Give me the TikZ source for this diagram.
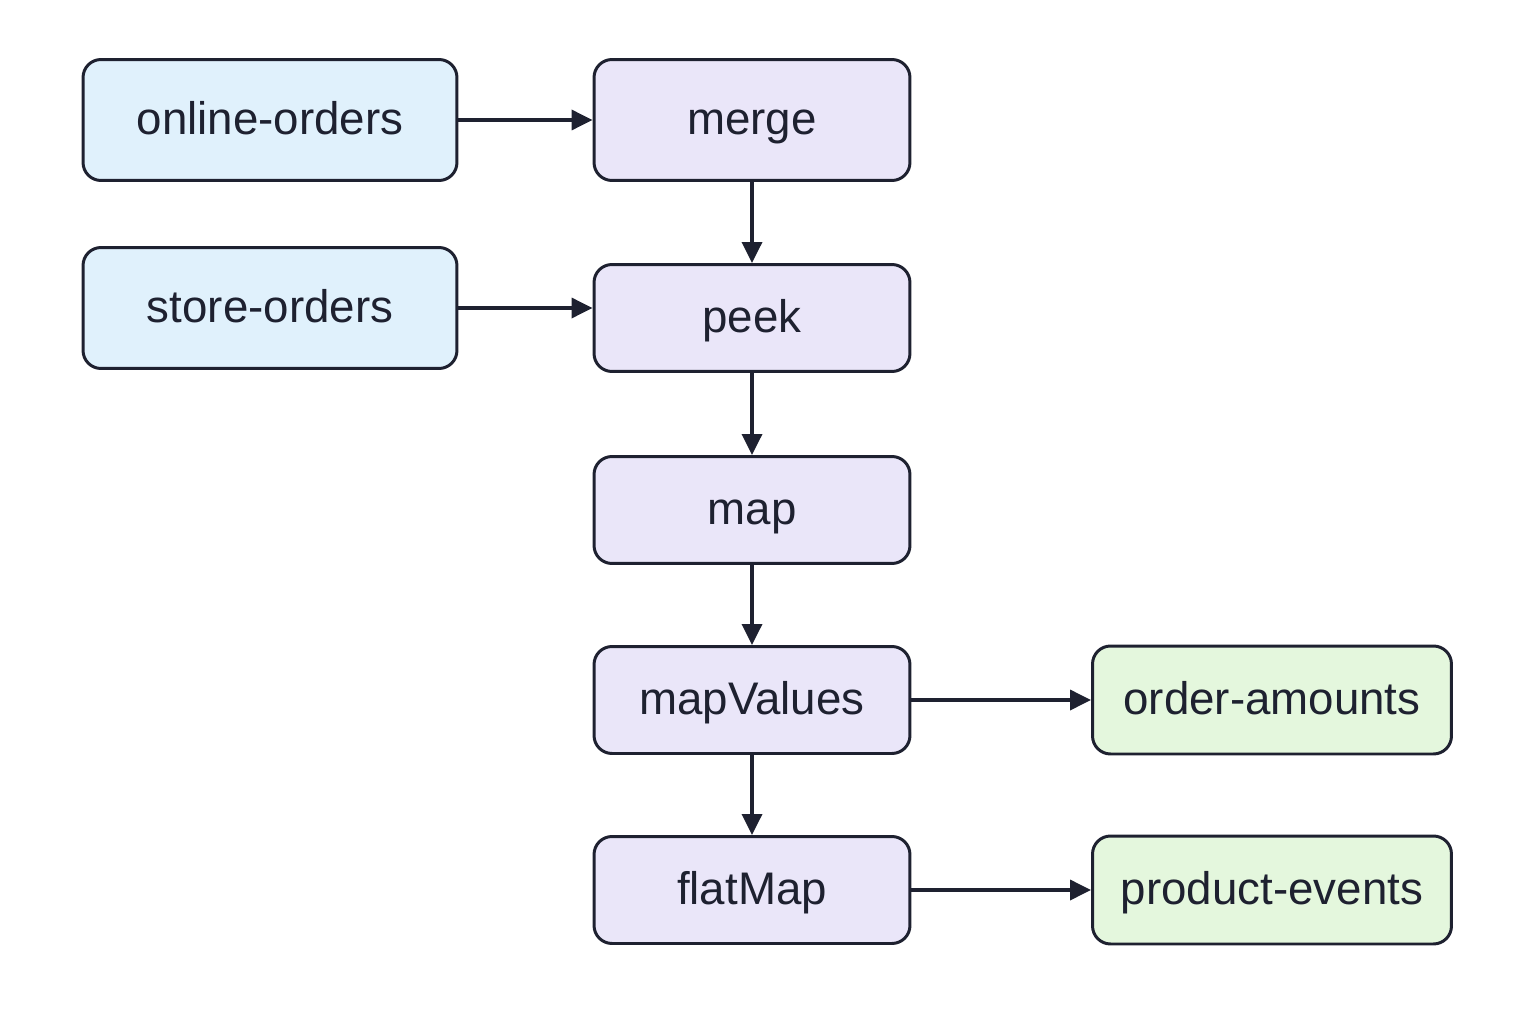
\documentclass[tikz,border=0pt]{standalone}
\usepackage{fontspec}
\setmainfont{Liberation Sans}
\usepackage{xcolor}
\usetikzlibrary{arrows.meta}

\definecolor{srcfill}{HTML}{E0F1FC}
\definecolor{opfill}{HTML}{EAE6F9}
\definecolor{sinkfill}{HTML}{E4F7DD}
\definecolor{ink}{HTML}{1E2130}

\tikzset{
	box/.style={draw=ink, line width=1.7pt, rounded corners=0.36cm, text=ink,
		font=\fontsize{26}{30}\selectfont, inner sep=0pt, text height=17pt, text depth=0pt},
	srcbox/.style={box, fill=srcfill, minimum width=7.48cm, minimum height=2.42cm},
	opbox/.style={box, fill=opfill, minimum width=6.32cm, minimum height=2.14cm},
	sinkbox/.style={box, fill=sinkfill, minimum width=7.18cm, minimum height=2.16cm},
	flow/.style={draw=ink, line width=2pt, -{Triangle[length=0.42cm, width=0.4cm]}}
}

\begin{document}
\begin{tikzpicture}[x=0.02cm, y=-0.02cm]
		\useasboundingbox (0,0) rectangle (1536,1024);
		
		\node[srcbox] (online) at (270,120) {online-orders};
		\node[srcbox] (store) at (270,308) {store-orders};
		\node[opbox, minimum height=2.42cm] (merge) at (752,120) {merge};
		\node[opbox] (peek) at (752,318) {peek};
		\node[opbox] (map) at (752,510) {map};
		\node[opbox] (mapvalues) at (752,700) {mapValues};
		\node[opbox] (flatmap) at (752,890) {flatMap};
		\node[sinkbox] (amounts) at (1272,700) {order-amounts};
		\node[sinkbox] (events) at (1272,890) {product-events};
		
		\draw[flow] (online) -- (merge);
		\draw[flow] (store.east) -- (store.east -| peek.west);
		\foreach \from/\to in {merge/peek, peek/map, map/mapvalues, mapvalues/flatmap}{
			\draw[flow] (\from) -- (\to);
		}
		\draw[flow] (mapvalues) -- (amounts);
		\draw[flow] (flatmap) -- (events);
	\end{tikzpicture}
\end{document}
